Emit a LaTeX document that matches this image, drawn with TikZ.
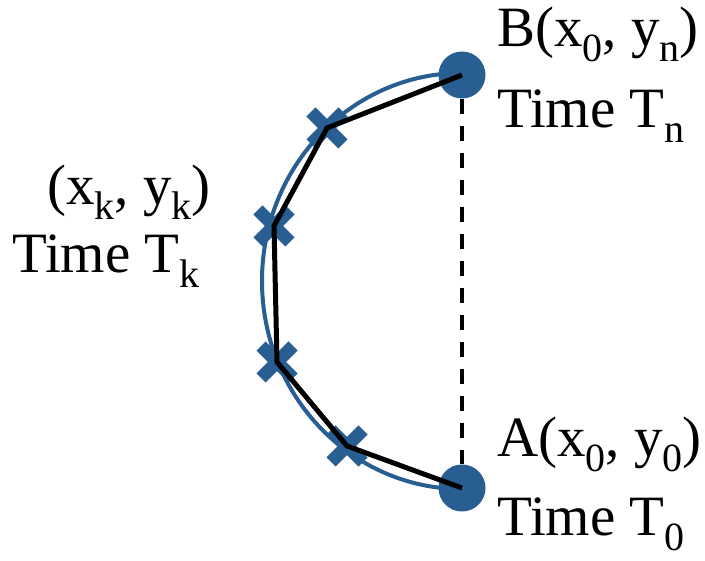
\documentclass[tikz,border=0pt]{standalone}
\usepackage{fontspec}
\setmainfont{Liberation Serif}
\definecolor{ptblue}{RGB}{40,94,146}
\newcommand\subtxt[1]{\raisebox{-15pt}{\fontsize{40}{40}\selectfont #1}}
\begin{document}
\begin{tikzpicture}[x=1pt,y=-1pt,
  endpt/.style={circle,fill=ptblue,minimum size=47pt,inner sep=0pt},
  lbl/.style={anchor=base west,inner sep=0pt,font=\fontsize{57}{60}\selectfont},
  xmk/.style={ptblue,line width=13pt,line cap=butt},
  path/.style={black,line width=5pt,line join=miter},
  curve/.style={ptblue,line width=4pt},
  chord/.style={black,line width=4.5pt,dash pattern=on 15pt off 12pt}
]
\useasboundingbox (0,0) rectangle (705,561);
\coordinate (p1) at (327,128);
\coordinate (p2) at (274,226);
\coordinate (p3) at (277,362);
\coordinate (p4) at (347,446);
\coordinate (top) at (462,73);
\draw[curve] (top) arc[start angle=270,end angle=90,x radius=200,y radius=208];
\node[endpt] (B) at (462,75) {};
\node[endpt] (A) at (462,488) {};
\draw[chord] (B.south) -- (A.north);
\foreach \p in {p1,p2,p3,p4} {
  \draw[xmk] ([shift={(-16,-16)}]\p) -- ([shift={(16,16)}]\p);
  \draw[xmk] ([shift={(-16,16)}]\p) -- ([shift={(16,-16)}]\p);
}
\draw[path] (B.center) -- (p1) -- (p2) -- (p3) -- (p4) -- (A.center);
\node[lbl] (lb1) at (497,47) {B(x\subtxt{0}, y\subtxt{n})};
\node[lbl] (lb2) at (497,128) {Time T\subtxt{n}};
\node[lbl] (lk1) at (47,205) {(x\subtxt{k}, y\subtxt{k})};
\node[lbl] (lk2) at (12,273) {Time T\subtxt{k}};
\node[lbl] (la1) at (497,457) {A(x\subtxt{0}, y\subtxt{0})};
\node[lbl] (la2) at (497,536) {Time T\subtxt{0}};
\end{tikzpicture}
\end{document}
